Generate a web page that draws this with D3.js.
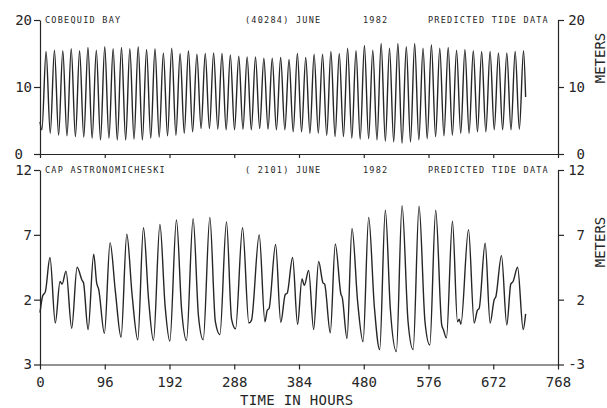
<!DOCTYPE html>
<html><head><meta charset="utf-8">
<script src="https://cdn.jsdelivr.net/npm/d3@7"></script>
<style>
html,body{margin:0;padding:0;background:#fff;}
svg{display:block;}
</style></head>
<body>
<script>
// ---------- data ----------
const hourTicks = [0, 96, 192, 288, 384, 480, 576, 672, 768];
const topTicks = [0, 10, 20];
const botTicks = [-3, 2, 7, 12];
const botLeftLabels = ["3", "2", "7", "12"];
const botRightLabels = ["-3", "2", "7", "12"];

const topHeader = ["COBEQUID BAY", "(40284) JUNE", "1982", "PREDICTED TIDE DATA"];
const botHeader = ["CAP ASTRONOMICHESKI", "( 2101) JUNE", "1982", "PREDICTED TIDE DATA"];

// Cobequid Bay: turning points (hours, meters)
const topHours = [0,2.8,9.0,15.2,21.4,27.6,33.8,40.0,46.3,52.5,58.7,64.9,71.1,77.3,83.5,89.7,96.0,102.2,108.4,114.6,
  120.8,127.0,133.2,139.4,145.6,151.8,158.0,164.2,170.5,176.7,182.9,189.1,195.3,201.5,207.7,213.9,220.1,226.3,232.6,238.8,
  245.0,251.2,257.4,263.6,269.8,276.0,282.2,288.4,294.7,300.9,307.1,313.3,319.5,325.7,331.9,338.1,344.3,350.5,356.8,363.0,
  369.2,375.4,381.6,387.8,394.0,400.2,406.4,412.6,418.9,425.1,431.3,437.5,443.7,449.9,456.1,462.3,468.5,474.7,481.0,487.2,
  493.4,499.6,505.8,512.0,518.2,524.4,530.6,536.8,543.1,549.3,555.5,561.7,567.9,574.1,580.3,586.5,592.7,598.9,605.2,611.4,
  617.6,623.8,630.0,636.2,642.4,648.6,654.8,661.0,667.3,673.5,679.7,685.9,692.1,698.3,704.5,710.7,716.9,720];
const topMeters = [4.8,3.6,15.3,3.1,15.5,2.8,15.4,2.7,15.7,2.6,15.4,2.5,15.9,2.35,15.5,2.1,16.0,2.35,15.7,2.1,
  15.9,2.1,15.7,2.2,16.0,2.1,15.6,2.35,15.7,2.5,15.1,2.7,15.8,2.8,15.0,3.1,15.4,3.3,14.9,3.8,
  15.0,3.8,15.1,3.7,15.0,3.6,14.8,3.6,14.6,3.7,14.5,3.6,14.5,3.8,14.3,3.7,14.3,3.6,14.4,3.6,
  14.1,3.3,15.0,3.3,14.4,3.1,14.9,3.1,14.9,2.8,15.3,2.6,15.0,2.6,15.8,2.35,15.4,2.2,16.2,2.3,
  15.5,2.1,16.5,1.9,15.8,1.8,16.5,1.6,16.0,1.8,16.5,2.1,15.8,2.3,16.3,2.6,15.8,2.7,15.9,2.8,
  15.5,3.1,15.6,3.1,15.4,3.3,15.3,3.3,15.3,3.6,15.1,3.6,15.1,3.6,15.3,3.7,15.4,8.5];

// Cap Astronomicheski: turning points and shoulders (hours, meters)
const botHours = [0,4,7.9,14.8,22.7,29.7,32.7,38.6,47,55,62.3,64.5,71.3,79.6,84,87,95.5,103.9,111.8,120.2,
  128.7,136.5,145,153.4,161,168.2,177.8,185.5,192.5,202.3,210,217.2,227,235,242,251.8,260,266.7,276.5,284,
  289.9,300.3,309.7,313.5,325,333.5,337,339.5,349.3,357,363.6,366.5,374.5,381.9,388.4,391.9,398.3,405.7,413.1,419.5,
  422,430.4,437.8,446.3,448,455.2,462.6,471,479,487.3,495.8,503.6,512,519.4,528.4,536.8,545.7,553.2,562,570.8,
  577.9,586.7,595.6,598,602.6,611.5,619,621.5,624,635.3,643.7,648.6,651,660,667.4,673.4,675.7,684.2,692.1,698,
  701.4,708.1,716.4,720];
const botMeters = [1.0,2.3,2.6,5.25,0.2,3.4,3.2,4.2,-0.2,4.5,3.5,3.3,-0.3,5.5,3.3,2.8,-0.6,6.4,2.6,-0.9,
  7.05,2.4,-1.1,7.55,2.0,-1.15,7.8,1.5,-1.2,8.15,1.2,-1.15,8.25,0.7,-1.1,8.35,0.3,-0.7,8.0,0.5,
  -0.25,7.55,0.2,0.4,7.0,0.3,1.2,1.3,6.25,0.25,2.4,2.5,5.25,0.1,3.6,3.1,4.25,-0.3,4.95,3.3,
  3.2,-0.55,6.3,2.4,2.2,-1.0,7.5,1.8,-1.25,8.35,1.4,-1.85,8.9,1.3,-2.0,9.25,0.3,-1.85,9.2,0.3,
  -1.5,8.9,0.05,-0.3,-0.95,8.05,0.3,0.5,0.1,7.4,0.2,1.2,1.3,6.35,0.2,2.0,2.2,5.4,0.05,3.2,
  3.4,4.5,-0.3,0.9];

// ---------- drawing ----------
const W = 607, H = 408;
const ink = "#262626";
const svg = d3.select("body").append("svg").attr("width", W).attr("height", H)
  .style("background", "#fff");

const x = d3.scaleLinear().domain([0, 768]).range([40, 558]);
const yTop = d3.scaleLinear().domain([0, 20]).range([154, 20]);
const yBot = d3.scaleLinear().domain([-3, 12]).range([364.5, 170]);

const numFont = "'DejaVu Sans Mono', monospace";

function styleAxis(g) {
  g.selectAll("path, line").attr("stroke", ink).attr("stroke-width", 1.2);
  g.selectAll("text").attr("fill", ink).style("font-family", numFont).style("font-size", "14px");
}

function panel(y, ticks, leftLabels, rightLabels, hours, levels, header, showXLabels) {
  const x0 = x.range()[0], x1 = x.range()[1];
  // left axis
  const gl = svg.append("g").attr("transform", `translate(${x0},0)`)
    .call(d3.axisLeft(y).tickValues(ticks).tickSize(6).tickSizeOuter(0).tickPadding(2)
      .tickFormat((d, i) => leftLabels[i]));
  styleAxis(gl);
  // right axis
  const gr = svg.append("g").attr("transform", `translate(${x1},0)`)
    .call(d3.axisRight(y).tickValues(ticks).tickSize(6).tickSizeOuter(0)
      .tickFormat((d, i) => rightLabels[i]));
  styleAxis(gr);
  gr.selectAll("text").attr("text-anchor", "end").attr("x", 27);
  // bottom axis
  const gb = svg.append("g").attr("transform", `translate(0,${y.range()[0]})`)
    .call(d3.axisBottom(x).tickValues(hourTicks).tickSize(showXLabels ? 5 : 4).tickSizeOuter(0)
      .tickPadding(8).tickFormat(showXLabels ? d3.format("d") : () => ""));
  styleAxis(gb);
  // METERS label
  const yMid = y.range()[1] + (showXLabels ? 72 : 38);
  svg.append("text").attr("transform", `translate(605,${yMid}) rotate(-90)`)
    .attr("text-anchor", "middle").attr("fill", ink)
    .style("font-family", numFont).style("font-size", "14px").text("METERS");
  // header
  const hx = [45, 245, 363, 428];
  svg.append("g").selectAll("text").data(header).join("text")
    .attr("x", (d, i) => hx[i]).attr("y", y.range()[1] + 2.5)
    .attr("fill", ink)
    .style("font-family", numFont).style("font-size", "8.5px").style("letter-spacing", "1.25px")
    .text(d => d);
  // tide curve
  const pts = hours.map((h, i) => [h, levels[i]]);
  const line = d3.line().x(d => x(d[0])).y(d => y(d[1])).curve(d3.curveMonotoneX);
  svg.append("path").datum(pts).attr("d", line).attr("fill", "none")
    .attr("stroke", ink).attr("stroke-width", 1.4).attr("stroke-linejoin", "round");
  return gl;
}

const glTop = panel(yTop, topTicks, topTicks.map(String), topTicks.map(String), topHours, topMeters, topHeader, false);
// the "0" on the upper left scale sits further left in the original
glTop.selectAll(".tick").filter(d => d === 0).select("text").attr("x", -17);
panel(yBot, botTicks, botLeftLabels, botRightLabels, botHours, botMeters, botHeader, true);

svg.append("text").attr("x", 240).attr("y", 405).attr("fill", ink)
  .style("font-family", numFont).style("font-size", "14px").style("letter-spacing", "0.3px")
  .text("TIME IN HOURS");
</script>
</body></html>
